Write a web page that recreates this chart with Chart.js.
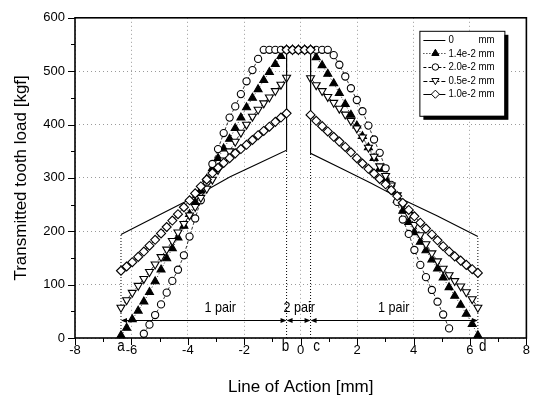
<!DOCTYPE html>
<html><head><meta charset="utf-8">
<script src="https://cdn.jsdelivr.net/npm/chart.js@4.4.1/dist/chart.umd.min.js"></script>
<style>html,body{margin:0;padding:0;background:#fff;}#wrap{width:535px;height:398px;position:relative;}</style>
</head><body><div id="wrap"><canvas id="c" width="535" height="398"></canvas></div>
<script>
// ---------- data ----------
const XL = [-6.37,-6.17,-5.97,-5.76,-5.56,-5.36,-5.16,-4.95,-4.75,-4.55,-4.35,-4.14,-3.94,-3.74,-3.54,-3.33,-3.13,-2.93,-2.73,-2.52,-2.32,-2.12,-1.92,-1.71,-1.51,-1.31,-1.11,-0.90,-0.70,-0.50];
const XM = [-0.29,-0.08,0.14];
const XR = [0.35,0.55,0.76,0.96,1.17,1.37,1.58,1.78,1.99,2.19,2.40,2.60,2.80,3.01,3.21,3.42,3.62,3.83,4.03,4.24,4.44,4.65,4.85,5.05,5.26,5.46,5.67,5.87,6.08,6.28];
const PLATEAU = 540;

const ZERO_X = [-6.37,-5.0,-3.85,-2.5,-1.5,-0.5,-0.5,0.35,0.35,1.5,2.5,3.43,4.83,6.28];
const ZERO_Y = [194,231,262,302,327,352,540,540,346,316,290,264,229,190];

const TRI14_L = [5,19,35,51,68,86,106,128,149,168,188,210,232,254,276,298,318,337,355,373,393,413,432,450,466,483,498,513,528,540];
const TRI14_R = [540,526,511,495,477,459,438,418,398,378,357,337,317,298,279,259,238,217,198,180,164,147,130,113,95,79,62,45,26,5];

const CIRC20_L = [null,null,null,null,8,25,43,63,85,107,128,155,190,224,258,293,326,354,384,413,434,457,481,502,523,540,540,540,540,540];
const CIRC20_R = [540,540,540,540,530,512,490,468,446,425,398,372,347,318,287,255,222,195,165,137,114,90,68,44,18,null,null,null,null,null];

const TRI05_L = [57,71,85,98,111,124,138,152,166,182,198,214,230,246,263,280,297,315,333,350,368,385,400,415,428,440,451,463,475,488];
const TRI05_R = [487,474,463,452,441,430,419,407,393,376,357,340,322,304,286,268,250,231,212,193,176,159,144,130,118,107,97,86,73,57];

const DIA10_L = [126,134,142,152,162,173,184,196,208,220,232,245,258,271,284,297,309,319,328,337,346,354,362,371,380,388,396,405,413,421];
const DIA10_R = [418,407,397,387,377,368,358,348,337,327,317,308,298,288,277,266,253,240,228,216,205,194,183,172,162,153,145,137,129,122];

const BOUND_X = [-6.37,-0.5,0.35,6.28];
const BOUND_TOP = [194,352,346,190];
const BOUND_LABELS = ['a','b','c','d'];
const ARROW_Y = 34;
const PAIR_LABELS = ['1 pair','2 pair','1 pair'];
const PAIR_LABEL_X = [-2.85,-0.05,3.3];
const PAIR_LABEL_Y = 57;
const LEGEND_NAMES = ['0','1.4e-2','2.0e-2','0.5e-2','1.0e-2'];
const LEGEND_UNIT = 'mm';
const X_TITLE = 'Line of Action [mm]';
const Y_TITLE = 'Transmitted tooth load [kgf]';

// ---------- fonts ----------
const FAM = '"Liberation Sans", Arial, sans-serif';
const FS = {title:17, tick:13, legend:11.5, pair:15, letter:16};
const CONDENSE = 0.84;
Chart.defaults.font.family = FAM;
Chart.defaults.color = '#000';

// ---------- build series ----------
function series(L, R){
  const pts=[];
  XL.forEach((x,i)=>{ if(L[i]!=null) pts.push({x,y:L[i]}); });
  const b = XL[XL.length-1], c = XR[0];
  if (L[L.length-1] !== PLATEAU) pts.push({x:b,y:PLATEAU});
  XM.forEach(x=>pts.push({x,y:PLATEAU}));
  if (R[0] !== PLATEAU) pts.push({x:c,y:PLATEAU});
  XR.forEach((x,i)=>{ if(R[i]!=null) pts.push({x,y:R[i]}); });
  return pts;
}

const STYLES = [
  {name:LEGEND_NAMES[0], shape:null, dash:[], fill:'#000'},
  {name:LEGEND_NAMES[1], shape:'triangle', rot:0, r:4.6, dash:[1,2], fill:'#000'},
  {name:LEGEND_NAMES[2], shape:'circle', rot:0, r:3.6, dash:[3,2], fill:'#fff'},
  {name:LEGEND_NAMES[3], shape:'triangle', rot:180, r:4.6, dash:[4,2], fill:'#fff'},
  {name:LEGEND_NAMES[4], shape:'rectRot', rot:0, r:4.5, dash:[], fill:'#fff'}
];

const datasets = [];
datasets.push({label:LEGEND_NAMES[0], data:ZERO_X.map((x,i)=>({x,y:ZERO_Y[i]})), showLine:true, borderColor:'#000', borderWidth:1.1, pointRadius:0, order:4, clip:false});
const markerData = [null, series(TRI14_L,TRI14_R), series(CIRC20_L,CIRC20_R), series(TRI05_L,TRI05_R), series(DIA10_L,DIA10_R)];
[1,2,3,4].forEach((k)=>{
  const s = STYLES[k];
  datasets.push({label:s.name, data:markerData[k], showLine:true, borderColor:'#000', borderWidth:0.8, borderDash:s.dash,
    pointStyle:s.shape, pointRotation:s.rot, pointRadius:s.r, pointBorderWidth:1.1, pointBorderColor:'#000', pointBackgroundColor:s.fill,
    order:4-k, clip:false});
});
BOUND_X.forEach((x,i)=>{
  datasets.push({label:'bound '+BOUND_LABELS[i], data:[{x,y:0},{x,y:BOUND_TOP[i]}], showLine:true, borderColor:'#000', borderWidth:1, borderDash:[1,2], pointRadius:0, order:5});
});

function drawShape(ctx, shape, x, y, r, rot, fill){
  ctx.save(); ctx.beginPath();
  if (shape==='circle'){ ctx.arc(x,y,r,0,Math.PI*2); }
  else if (shape==='triangle'){
    let a = rot*Math.PI/180;
    ctx.moveTo(x+Math.sin(a)*r, y-Math.cos(a)*r); a+=2*Math.PI/3;
    ctx.lineTo(x+Math.sin(a)*r, y-Math.cos(a)*r); a+=2*Math.PI/3;
    ctx.lineTo(x+Math.sin(a)*r, y-Math.cos(a)*r); ctx.closePath();
  } else if (shape==='rectRot'){
    ctx.moveTo(x-r,y); ctx.lineTo(x,y-r); ctx.lineTo(x+r,y); ctx.lineTo(x,y+r); ctx.closePath();
  }
  ctx.fillStyle=fill; ctx.fill(); ctx.lineWidth=1; ctx.strokeStyle='#000'; ctx.stroke(); ctx.restore();
}

// condensed text (the reference uses a narrow sans face)
function ctext(ctx, t, x, y, size, align){
  ctx.save();
  ctx.font = size+'px '+FAM; ctx.textBaseline='middle'; ctx.textAlign='left';
  const w = ctx.measureText(t).width*CONDENSE;
  let x0 = x; if (align==='center') x0 = x - w/2; else if (align==='right') x0 = x - w;
  ctx.translate(x0, y); ctx.scale(CONDENSE, 1);
  ctx.fillStyle='#000'; ctx.fillText(t, 0, 0);
  ctx.restore();
}

function arrowHead(ctx, x, y, dir){
  ctx.beginPath(); ctx.moveTo(x,y); ctx.lineTo(x-dir*6,y-2.5); ctx.lineTo(x-dir*6,y+2.5); ctx.closePath(); ctx.fill();
}

const decor = {
  id:'decor',
  beforeDatasetsDraw(chart){
    const {ctx, scales:{x:xs, y:ys}} = chart;
    ctx.save();
    ctx.strokeStyle='#000'; ctx.fillStyle='#000'; ctx.lineWidth=1;
    const py = Math.round(ys.getPixelForValue(ARROW_Y))+0.5;
    for (let i=0;i<BOUND_X.length-1;i++){
      const x1 = xs.getPixelForValue(BOUND_X[i]), x2 = xs.getPixelForValue(BOUND_X[i+1]);
      ctx.beginPath(); ctx.moveTo(x1+3,py); ctx.lineTo(x2-3,py); ctx.stroke();
      arrowHead(ctx, x1, py, -1); arrowHead(ctx, x2, py, 1);
    }
    PAIR_LABELS.forEach((t,i)=>ctext(ctx, t, xs.getPixelForValue(PAIR_LABEL_X[i]), ys.getPixelForValue(PAIR_LABEL_Y), FS.pair, 'center'));
    ctx.restore();
  },
  afterDraw(chart){
    const {ctx, chartArea:ca, scales:{x:xs, y:ys}} = chart;
    ctx.save();
    ctx.strokeStyle='#000'; ctx.lineWidth=1;
    // ticks
    ctx.beginPath();
    for (let v=0; v<=600; v+=50){
      const p = Math.round(ys.getPixelForValue(v))+0.5;
      const len = (v%100===0)?7:4;
      ctx.moveTo(ca.left-len,p); ctx.lineTo(ca.left,p);
    }
    for (let v=-8; v<=8; v+=1){
      const p = Math.round(xs.getPixelForValue(v))+0.5;
      const len = (v%2===0)?7:4;
      ctx.moveTo(p,ca.bottom); ctx.lineTo(p,ca.bottom+len);
    }
    ctx.stroke();
    // frame
    ctx.lineWidth=1.6;
    ctx.strokeRect(ca.left, ca.top, ca.right-ca.left, ca.bottom-ca.top);
    // letters a b c d
    const ldx=[0,-1,6,5];
    BOUND_X.forEach((x,i)=>ctext(ctx, BOUND_LABELS[i], xs.getPixelForValue(x)+ldx[i], ca.bottom+9, FS.letter, 'center'));
    // legend
    const lx = ca.right-107, ly = ca.top+13, lw=85, lh=85;
    ctx.fillStyle='#000'; ctx.fillRect(lx+4, ly+4, lw, lh);
    ctx.fillStyle='#fff'; ctx.fillRect(lx, ly, lw, lh);
    ctx.lineWidth=1; ctx.strokeStyle='#000'; ctx.strokeRect(lx+0.5, ly+0.5, lw, lh);
    STYLES.forEach((s,i)=>{
      const ry = ly + 9 + i*13.6;
      ctx.save(); ctx.setLineDash(s.dash); ctx.lineWidth=1; ctx.strokeStyle='#000';
      ctx.beginPath(); ctx.moveTo(lx+4, Math.round(ry)+0.5); ctx.lineTo(lx+26, Math.round(ry)+0.5); ctx.stroke(); ctx.restore();
      if (s.shape) drawShape(ctx, s.shape, lx+16, ry, s.r*0.9, s.rot, s.fill);
      ctext(ctx, s.name, lx+29, ry, FS.legend, 'left');
      ctext(ctx, LEGEND_UNIT, lx+59, ry, FS.legend, 'left');
    });
    ctx.restore();
  }
};

new Chart(document.getElementById('c'), {
  type:'scatter',
  data:{datasets},
  options:{
    responsive:false, animation:false, devicePixelRatio:1,
    layout:{padding:{top:15, right:5, left:0, bottom:0}},
    plugins:{legend:{display:false}, tooltip:{enabled:false}},
    elements:{line:{tension:0}},
    scales:{
      x:{type:'linear', min:-8, max:8,
        ticks:{stepSize:2, padding:5, font:{size:FS.tick}, color:'#000'},
        grid:{color:'#9a9a9a', drawTicks:false, lineWidth:1},
        border:{display:false, dash:[1,3]},
        title:{display:true, text:X_TITLE, font:{size:FS.title}, color:'#000', padding:{top:0,bottom:0}},
        afterFit(s){ s.height = 60; }
      },
      y:{type:'linear', min:0, max:600,
        ticks:{stepSize:100, padding:10, font:{size:FS.tick}, color:'#000'},
        grid:{color:'#9a9a9a', drawTicks:false, lineWidth:1},
        border:{display:false, dash:[1,3]},
        title:{display:true, text:Y_TITLE, font:{size:FS.title}, color:'#000', padding:{top:11,bottom:0}},
        afterFit(s){ s.width = 75; }
      }
    }
  },
  plugins:[decor]
});
</script>
</body></html>
